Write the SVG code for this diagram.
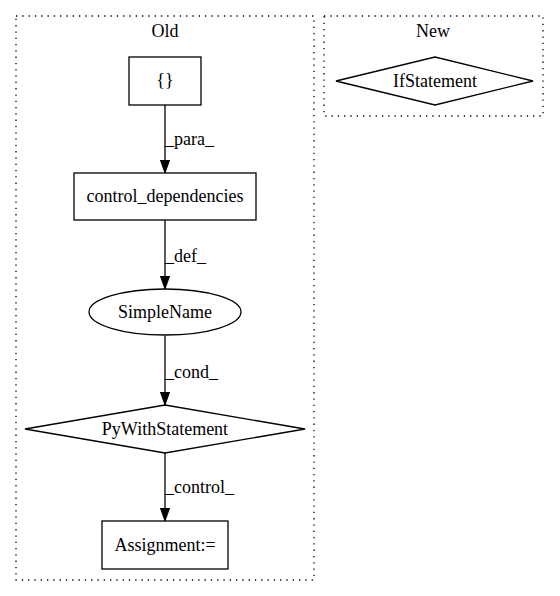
<svg xmlns="http://www.w3.org/2000/svg" width="560" height="596" viewBox="0 0 560 596" font-family="'Liberation Serif','Times New Roman',serif">
<style>
text{font-family:"Liberation Serif","DejaVu Serif",serif;font-size:18px;fill:#000}
.c{text-anchor:middle}
.cl{fill:none;stroke:#000;stroke-dasharray:1.3,5;stroke-width:1.3}
.n{fill:#fff;stroke:#000;stroke-width:1.3}
.e{fill:none;stroke:#000;stroke-width:1.3}
</style>
<defs>
<marker id="ah" markerWidth="14" markerHeight="10" refX="13" refY="5" orient="auto" markerUnits="userSpaceOnUse">
<path d="M0,0.4 L13,5 L0,9.6 Z" fill="#000" stroke="#000" stroke-width="1"/>
</marker>
</defs>
<rect width="560" height="596" fill="#fff"/>
<g id="cluster_old">
<rect class="cl" x="16" y="16" width="298" height="564"/>
<text class="c" x="165" y="37">Old</text>
</g>
<g id="cluster_new">
<rect class="cl" x="324" y="16" width="219" height="100"/>
<text class="c" x="433" y="37">New</text>
</g>
<g id="edges">
<path class="e" d="M165,105 V173" marker-end="url(#ah)"/>
<text x="165" y="145">_para_</text>
<path class="e" d="M165,220 V289" marker-end="url(#ah)"/>
<text x="165" y="262">_def_</text>
<path class="e" d="M165,336 V405" marker-end="url(#ah)"/>
<text x="165" y="378">_cond_</text>
<path class="e" d="M165,453 V521" marker-end="url(#ah)"/>
<text x="165" y="493">_control_</text>
</g>
<g id="node_braces">
<rect class="n" x="129" y="57" width="72" height="48"/>
<text class="c" x="165" y="86">{}</text>
</g>
<g id="node_control_dependencies">
<rect class="n" x="74" y="173" width="182" height="47"/>
<text class="c" x="165" y="202">control_dependencies</text>
</g>
<g id="node_SimpleName">
<ellipse class="n" cx="165" cy="312" rx="76" ry="23"/>
<text class="c" x="165" y="318">SimpleName</text>
</g>
<g id="node_PyWithStatement">
<polygon class="n" points="165,405 305,429 165,453 25,429"/>
<text class="c" x="165" y="435">PyWithStatement</text>
</g>
<g id="node_Assignment">
<rect class="n" x="102" y="521" width="126" height="48"/>
<text class="c" x="165" y="551">Assignment:=</text>
</g>
<g id="node_IfStatement">
<polygon class="n" points="435,57 533,81 435,105 336,81"/>
<text class="c" x="435" y="87">IfStatement</text>
</g>
</svg>
